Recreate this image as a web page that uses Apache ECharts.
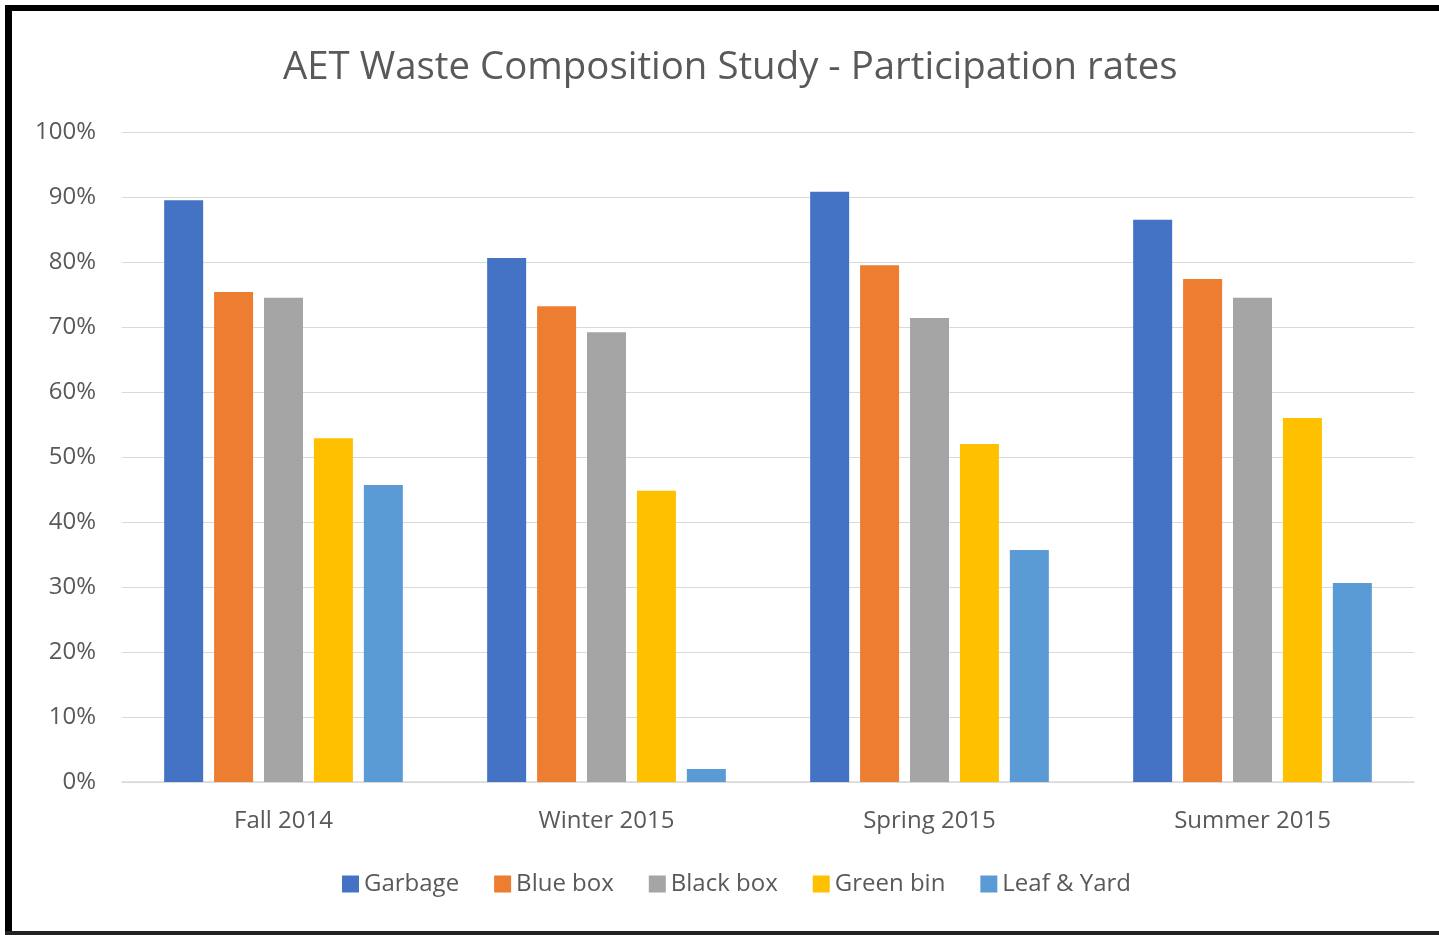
<!DOCTYPE html>
<html><head><meta charset="utf-8">
<script src="https://cdn.jsdelivr.net/npm/echarts@6/dist/echarts.min.js"></script>
<style>html,body{margin:0;padding:0;background:#fff}#c{width:1439px;height:935px}</style>
</head><body><div id="c"></div>
<script>
const categories = ['Fall 2014', 'Winter 2015', 'Spring 2015', 'Summer 2015'];
const seriesNames = ['Garbage', 'Blue box', 'Black box', 'Green bin', 'Leaf & Yard'];
const garbage = [0.895, 0.806, 0.908, 0.865];
const blueBox = [0.754, 0.732, 0.795, 0.774];
const blackBox = [0.745, 0.692, 0.714, 0.745];
const greenBin = [0.529, 0.448, 0.520, 0.560];
const leafYard = [0.457, 0.020, 0.357, 0.306];
const yTicks = [0, 0.1, 0.2, 0.3, 0.4, 0.5, 0.6, 0.7, 0.8, 0.9, 1.0];

const colors = ['#4472C4', '#ED7D31', '#A5A5A5', '#FFC000', '#5B9BD5'];
const values = [garbage, blueBox, blackBox, greenBin, leafYard];
const font = '"Open Sans", "Noto Sans", sans-serif';

const chart = echarts.init(document.getElementById('c'), null, {renderer: 'canvas'});
chart.setOption({
  animation: false,
  backgroundColor: '#fff',
  color: colors,
  title: {
    text: 'AET Waste Composition Study - Participation rates',
    left: 278, top: 44,
    textStyle: {fontFamily: font, fontSize: 38.4, fontWeight: 'normal', color: '#595959'}
  },
  legend: {
    data: seriesNames, bottom: 34, left: 337,
    icon: 'rect', itemWidth: 17, itemHeight: 17, itemGap: 35,
    textStyle: {fontFamily: font, fontSize: 24, color: '#595959'}
  },
  grid: {left: 122, right: 25, top: 132, bottom: 153, containLabel: false},
  xAxis: {
    type: 'category', data: categories,
    axisLine: {lineStyle: {color: '#D9D9D9', width: 1.5}},
    axisTick: {show: false},
    axisLabel: {fontFamily: font, fontSize: 24, color: '#595959', margin: 27}
  },
  yAxis: {
    type: 'value', min: 0, max: 1, interval: 0.1,
    axisLine: {show: false}, axisTick: {show: false},
    splitLine: {lineStyle: {color: '#D9D9D9', width: 1.2}},
    axisLabel: {fontFamily: font, fontSize: 24, color: '#595959', margin: 26,
      formatter: v => Math.round(v * 100) + '%'}
  },
  series: seriesNames.map((n, i) => ({
    name: n, type: 'bar', data: values[i],
    barWidth: 39, barGap: '28%',
    itemStyle: {color: colors[i]}
  })),
  graphic: [
    {type: 'rect', shape: {x: 5, y: 5, width: 1434, height: 6}, style: {fill: '#000'}},
    {type: 'rect', shape: {x: 5, y: 5, width: 7, height: 930}, style: {fill: '#000'}},
    {type: 'rect', shape: {x: 5, y: 931, width: 1434, height: 4}, style: {fill: '#222'}}
  ]
});
</script></body></html>
